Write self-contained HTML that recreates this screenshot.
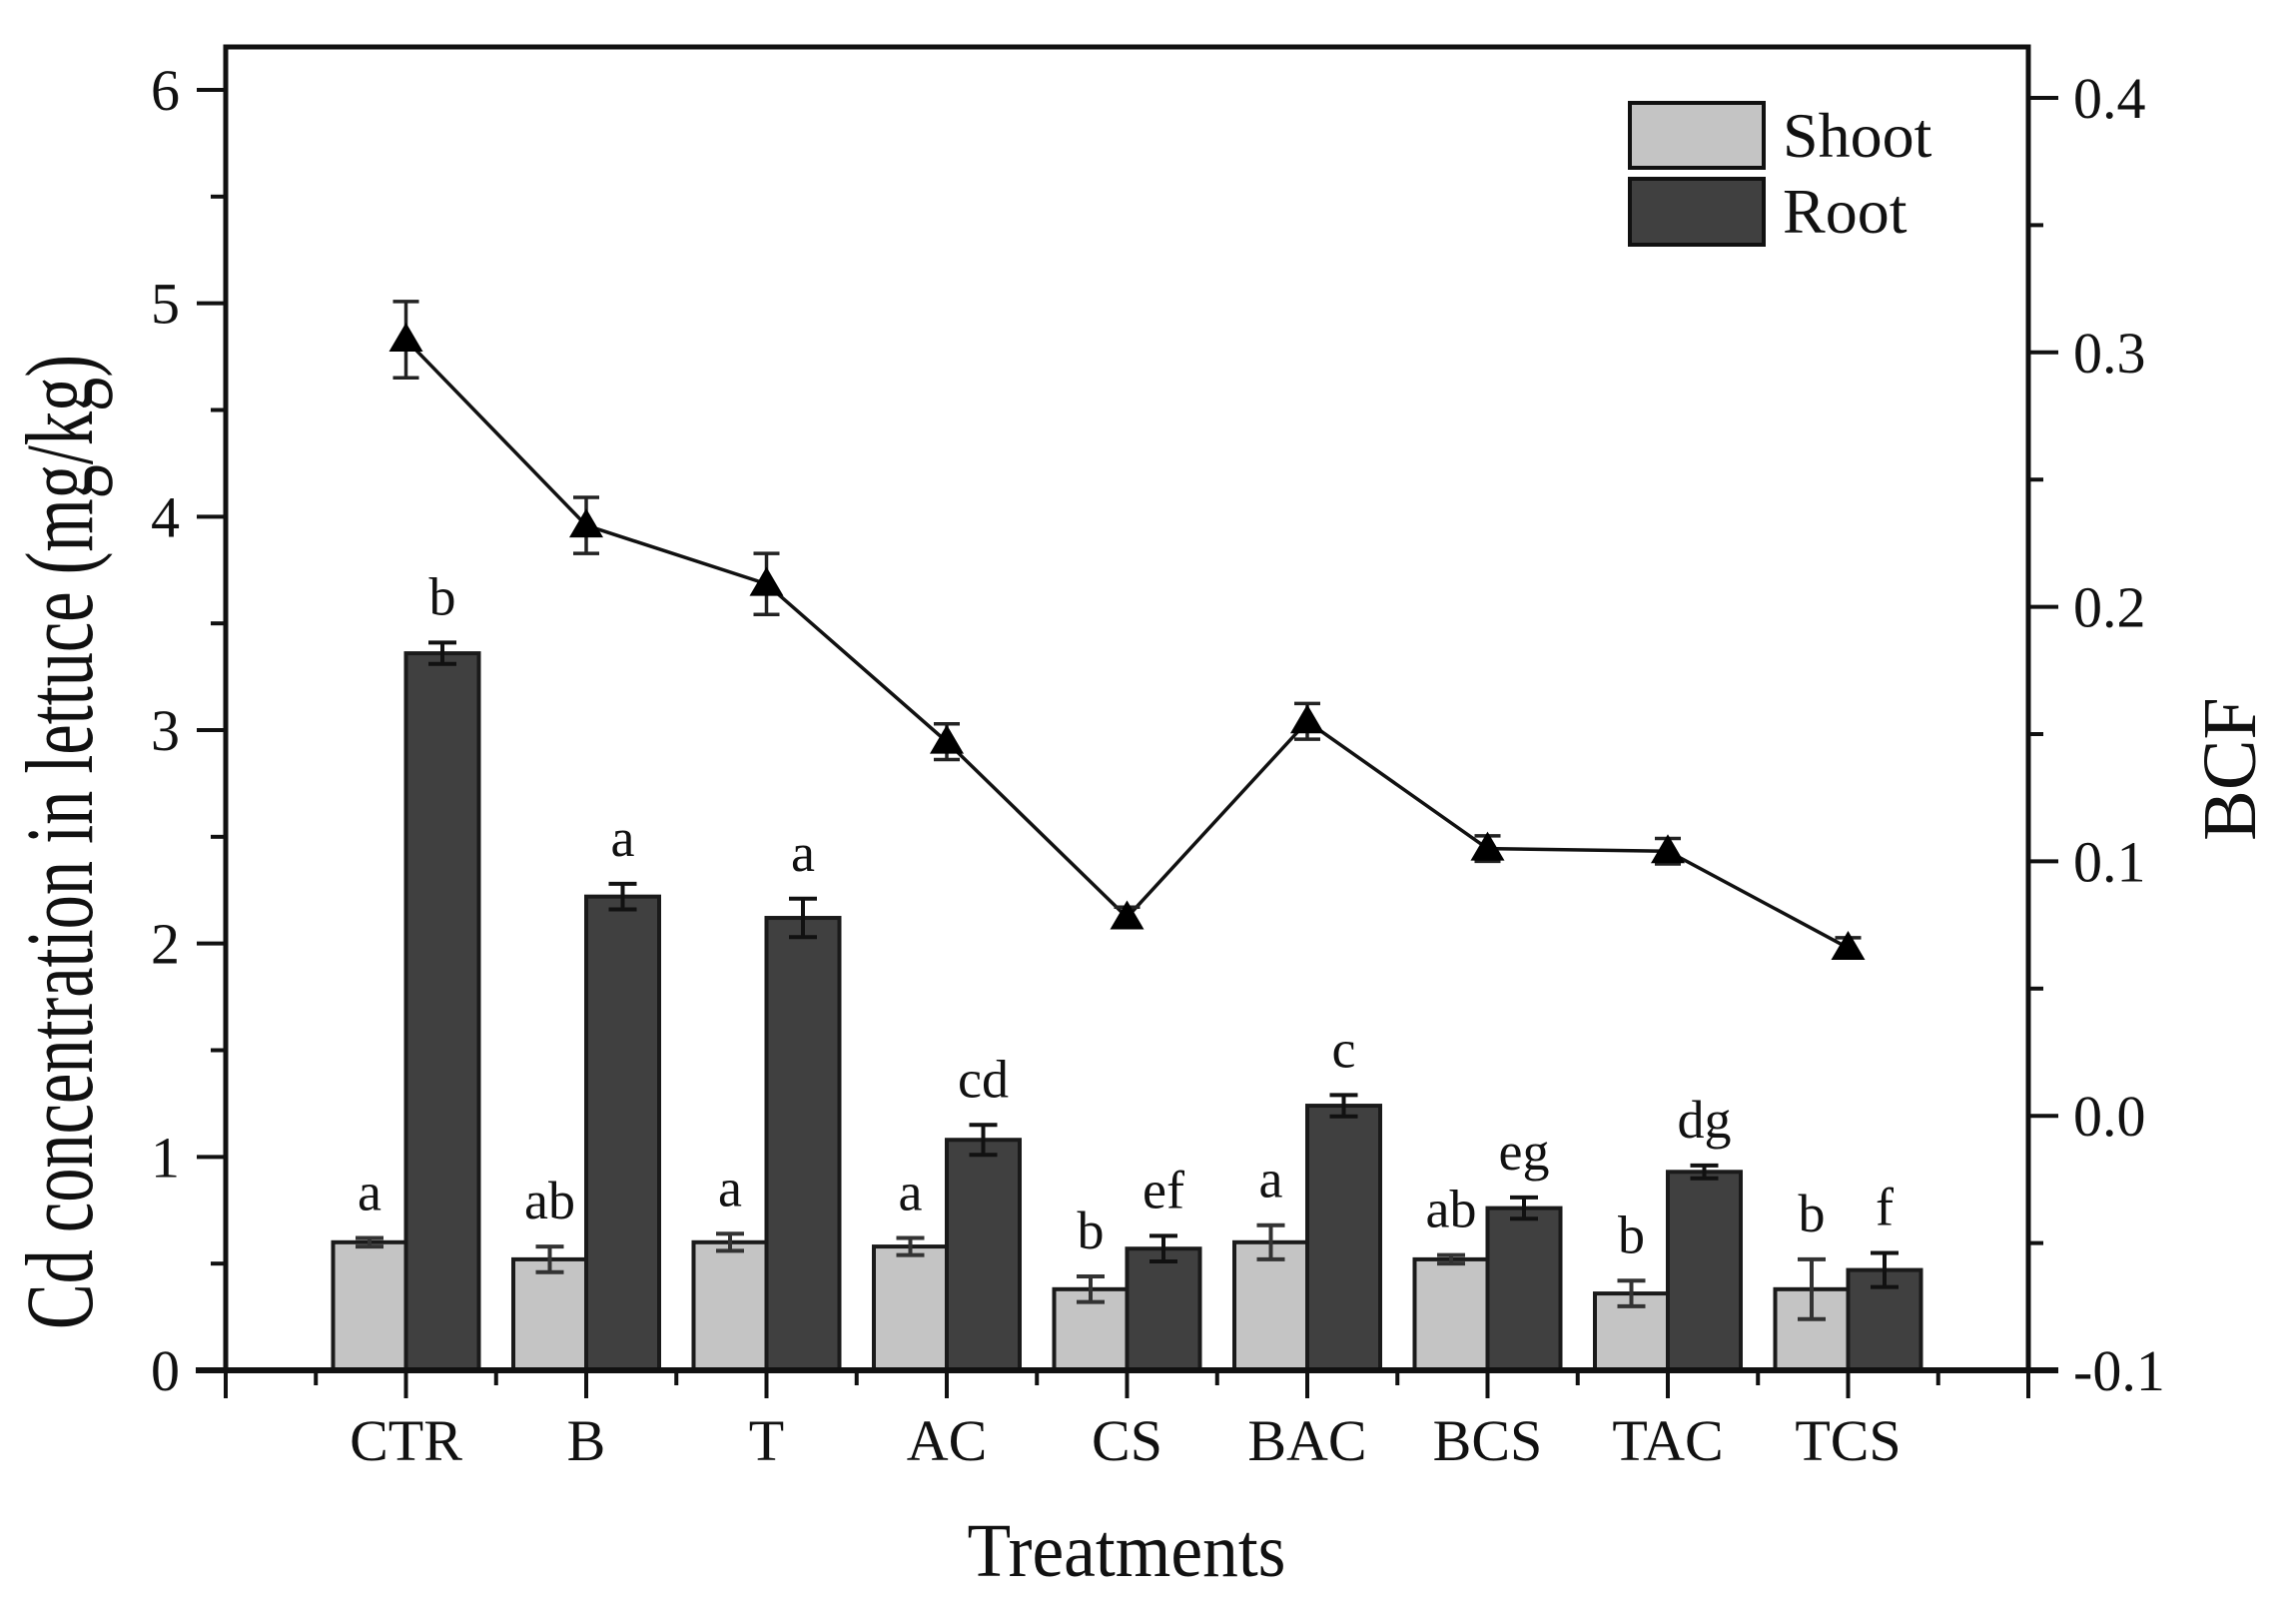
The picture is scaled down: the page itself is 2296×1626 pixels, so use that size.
<!DOCTYPE html>
<html><head><meta charset="utf-8"><style>
html,body{margin:0;padding:0;background:#fff;}
svg{display:block;font-family:"Liberation Serif","Times New Roman",serif;}
</style></head><body>
<svg id="chart" width="2296" height="1626" viewBox="0 0 2296 1626" xmlns="http://www.w3.org/2000/svg">
<rect width="2296" height="1626" fill="#fff"/>
<g id="plot"></g>
</svg>
<script>
const categories = ["CTR","B","T","AC","CS","BAC","BCS","TAC","TCS"];
const shootValues = [0.60,0.52,0.60,0.58,0.38,0.60,0.52,0.36,0.38];
const shootErrors = [0.02,0.06,0.04,0.04,0.06,0.08,0.02,0.06,0.14];
const rootValues = [3.36,2.22,2.12,1.08,0.57,1.24,0.76,0.93,0.47];
const rootErrors = [0.05,0.06,0.09,0.07,0.06,0.05,0.05,0.03,0.08];
const bcfValues = [0.305,0.232,0.209,0.147,0.078,0.155,0.105,0.104,0.066];
const bcfErrors = [0.015,0.011,0.012,0.007,0.004,0.007,0.005,0.005,0.004];
const shootLetters = ["a","ab","a","a","b","a","ab","b","b"];
const rootLetters = ["b","a","a","cd","ef","c","eg","dg","f"];
const leftTicks = [0,1,2,3,4,5,6];
const rightTicks = ["-0.1","0.0","0.1","0.2","0.3","0.4"];

const NS="http://www.w3.org/2000/svg";
const g=document.getElementById('plot');
const X0=226,X1=2031,YB=1372,YT=47;
const xScale=v=>X0+(X1-X0)*v/10;
const yL=v=>YB-(YB-90)*v/6;
const yR=v=>YB-(YB-98)*(v+0.1)/0.5;
function mk(tag,attrs,parent){const e=document.createElementNS(NS,tag);for(const k in attrs)e.setAttribute(k,attrs[k]);(parent||g).appendChild(e);return e;}
const BW=73;

categories.forEach((c,i)=>{
  const cx=xScale(i+1);
  const ys=yL(shootValues[i]);
  const s=mk('rect',{x:cx-BW,y:ys,width:BW,height:YB-ys,fill:'#c4c4c4',stroke:'#1a1a1a','stroke-width':4});
  
  
  const yr=yL(rootValues[i]);
  const r=mk('rect',{x:cx,y:yr,width:BW,height:YB-yr,fill:'#404040',stroke:'#1a1a1a','stroke-width':4});
  
  
  [[cx-BW/2,shootValues[i],shootErrors[i],'#333','shoot'],[cx+BW/2,rootValues[i],rootErrors[i],'#111','root']].forEach(([ex,v,e,col,nm])=>{
    const t=yL(v+e),b=yL(v-e);
    const eg=mk('path',{d:`M${ex},${t}V${b}M${ex-14},${t}H${ex+14}M${ex-14},${b}H${ex+14}`,stroke:col,'stroke-width':4,fill:'none'});
    
    
  });
  const ls=mk('text',{x:cx-BW/2,y:yL(shootValues[i]+shootErrors[i])-28,'font-size':54,'text-anchor':'middle',fill:'#111'});
  ls.textContent=shootLetters[i];
  
  
  const lr=mk('text',{x:cx+BW/2,y:yL(rootValues[i]+rootErrors[i])-28,'font-size':54,'text-anchor':'middle',fill:'#111'});
  lr.textContent=rootLetters[i];
  
  
  const xl=mk('text',{x:cx,y:1462,'font-size':58,'text-anchor':'middle',fill:'#111'});
  xl.textContent=c;
  
  
});

const pts=bcfValues.map((v,i)=>xScale(i+1)+','+yR(v)).join(' ');
const line=mk('polyline',{points:pts,fill:'none',stroke:'#111','stroke-width':3.5});


bcfValues.forEach((v,i)=>{
  const cx=xScale(i+1),cy=yR(v),t=yR(v+bcfErrors[i]),b=yR(v-bcfErrors[i]);
  const e=mk('path',{d:`M${cx},${t}V${b}M${cx-13},${t}H${cx+13}M${cx-13},${b}H${cx+13}`,stroke:'#222','stroke-width':3.5,fill:'none'});
  
  
  const m=mk('path',{d:`M${cx},${cy-17}L${cx+17},${cy+12}L${cx-17},${cy+12}Z`,fill:'#000'});
  
  
});

const fr=mk('path',{d:`M${X0},${YB}V${YT}H${X1}V${YB}`,fill:'none',stroke:'#111','stroke-width':5});


const xa=mk('line',{x1:X0-30,y1:YB,x2:X1+30,y2:YB,stroke:'#111','stroke-width':6});


for(let k=0;k<=20;k++){
  const x=xScale(k/2),major=k%2===0;
  const t=mk('line',{x1:x,y1:YB,x2:x,y2:YB+(major?28:15),stroke:'#111','stroke-width':4});
  
  
}
for(let k=0;k<=12;k++){
  const v=k/2,y=yL(v),major=k%2===0;
  const t=mk('line',{x1:X0,y1:y,x2:X0-(major?29:15),y2:y,stroke:'#111','stroke-width':4});
  
  
}
leftTicks.forEach(v=>{
  const t=mk('text',{x:180,y:yL(v)+20,'font-size':58,'text-anchor':'end',fill:'#111'});
  t.textContent=String(v);
  
  
});
for(let k=0;k<=10;k++){
  const v=-0.1+k*0.05,y=yR(v),major=k%2===0;
  const t=mk('line',{x1:X1,y1:y,x2:X1+(major?30:15),y2:y,stroke:'#111','stroke-width':4});
  
  
}
rightTicks.forEach(s=>{
  const t=mk('text',{x:2076,y:yR(parseFloat(s))+20,'font-size':58,fill:'#111'});
  t.textContent=s;
  
  
});
const xt=mk('text',{x:1128,y:1578,'font-size':76,'text-anchor':'middle',fill:'#111',textLength:319,lengthAdjust:'spacingAndGlyphs'});
xt.textContent='Treatments';


const yt=mk('text',{x:0,y:0,'font-size':96,'text-anchor':'middle',fill:'#111',transform:'translate(92,843) rotate(-90)',textLength:976,lengthAdjust:'spacingAndGlyphs'});
yt.textContent='Cd concentration in lettuce (mg/kg)';


const rt=mk('text',{x:0,y:0,'font-size':76,'text-anchor':'middle',fill:'#111',transform:'translate(2258,770) rotate(-90)'});
rt.textContent='BCF';


const lg=mk('g',{});


const l1=mk('rect',{x:1632,y:103,width:134,height:65,fill:'#c4c4c4',stroke:'#111','stroke-width':4},lg);


const l2=mk('rect',{x:1632,y:179,width:134,height:66,fill:'#404040',stroke:'#111','stroke-width':4},lg);


const t1=mk('text',{x:1785,y:157,'font-size':64,fill:'#111'},lg);
t1.textContent='Shoot';


const t2=mk('text',{x:1785,y:233,'font-size':64,fill:'#111'},lg);
t2.textContent='Root';


</script>
</body></html>
